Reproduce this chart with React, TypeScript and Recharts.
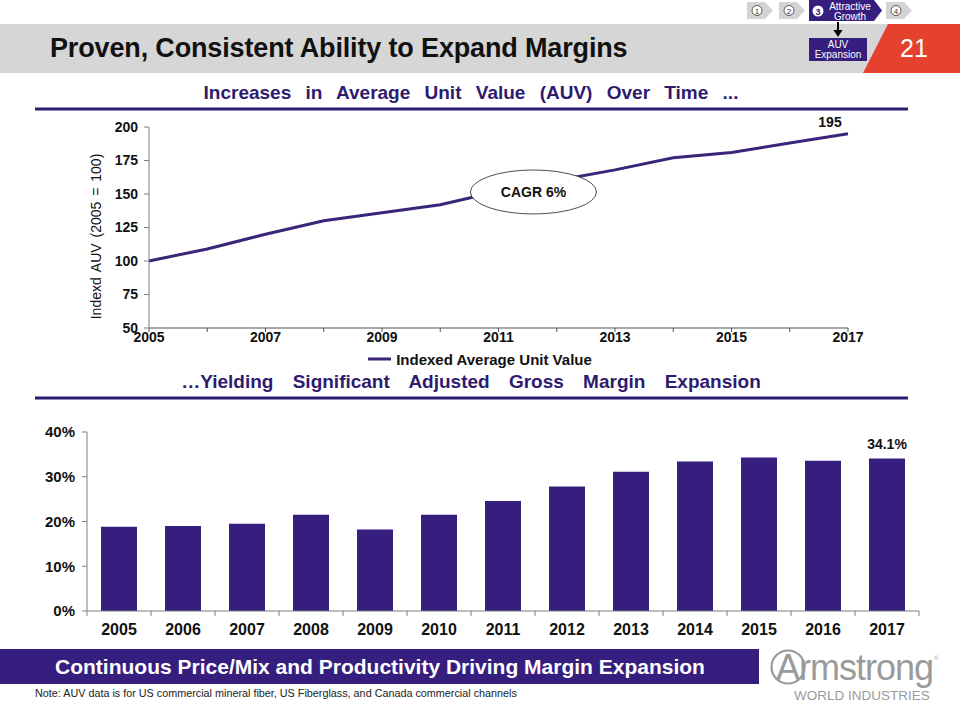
import React from "react";
import {
  LineChart,
  Line,
  BarChart,
  Bar,
  XAxis,
  YAxis,
  Legend,
  LabelList,
  ReferenceDot,
} from "recharts";

const years = [2005, 2006, 2007, 2008, 2009, 2010, 2011, 2012, 2013, 2014, 2015, 2016, 2017];
const auvIndex = [100, 109, 120, 130, 136, 142, 152, 160, 168, 177, 181, 188, 195];
const auvTicks = [50, 75, 100, 125, 150, 175, 200];

const marginYears = ["2005", "2006", "2007", "2008", "2009", "2010", "2011", "2012", "2013", "2014", "2015", "2016", "2017"];
const grossMargin = [18.8, 19.0, 19.5, 21.5, 18.2, 21.5, 24.6, 27.8, 31.1, 33.4, 34.3, 33.6, 34.1];
const marginTicks = [0, 10, 20, 30, 40];

const auvData = years.map((year, i) => ({ year, auv: auvIndex[i] }));
const marginData = marginYears.map((year, i) => ({ year, margin: grossMargin[i] }));

const FONT = "'Liberation Sans', Arial, sans-serif";
const NARROW = "'Liberation Sans Narrow', 'Liberation Sans', Arial, sans-serif";
const PURPLE = "#361e7e";
const AXIS = "#7f7f7f";

// bar chart geometry
const BAR_W = 930;
const BAR_LEFT = 87;
const BAR_RIGHT = 11;
const band = (BAR_W - BAR_LEFT - BAR_RIGHT) / marginYears.length;

const Chevron = ({ x, w, fill, top = 2, bottom = 19 }: { x: number; w: number; fill: string; top?: number; bottom?: number }) => (
  <polygon
    points={`${x},${top} ${x + w - 8},${top} ${x + w},${(top + bottom) / 2} ${x + w - 8},${bottom} ${x},${bottom}`}
    fill={fill}
  />
);

const StepNum = ({ cx, n }: { cx: number; n: string }) => (
  <g>
    <circle cx={cx} cy={10.5} r={5} fill="#fff" stroke="#333" strokeWidth={0.8} />
    <text x={cx} y={13.5} textAnchor="middle" fontSize={8} fill="#333" fontFamily={FONT}>
      {n}
    </text>
  </g>
);

const Slide = () => (
  <svg
    width={960}
    height={720}
    style={{ position: "absolute", left: 0, top: 0, pointerEvents: "none" }}
  >
    <rect x={0} y={24} width={960} height={49} fill="#d6d6d6" />
    <polygon points="888,24 960,24 960,73 863,73" fill="#e5412f" />
    <text x={914} y={57} textAnchor="middle" fontSize={25} fill="#fff" fontFamily={FONT}>
      21
    </text>
    <text x={50} y={57} fontSize={27} fontWeight="bold" fill="#111" fontFamily={FONT} letterSpacing={-0.15}>
      Proven, Consistent Ability to Expand Margins
    </text>

    <Chevron x={747} w={26} fill="#d3d3d3" />
    <StepNum cx={757} n="1" />
    <Chevron x={779} w={26} fill="#d3d3d3" />
    <StepNum cx={789} n="2" />
    <Chevron x={809} w={73} fill={PURPLE} top={0} bottom={21} />
    <circle cx={818} cy={11} r={5.5} fill="#fff" />
    <text x={818} y={14.5} textAnchor="middle" fontSize={9} fontWeight="bold" fill={PURPLE} fontFamily={FONT}>
      3
    </text>
    <text x={850} y={9.5} textAnchor="middle" fontSize={10} fill="#fff" fontFamily={NARROW}>
      Attractive
    </text>
    <text x={850} y={19.5} textAnchor="middle" fontSize={10} fill="#fff" fontFamily={NARROW}>
      Growth
    </text>
    <Chevron x={886} w={26} fill="#d3d3d3" />
    <StepNum cx={896} n="4" />

    <line x1={838} y1={22} x2={838} y2={31} stroke="#000" strokeWidth={2} />
    <polygon points="833.5,30 842.5,30 838,37" fill="#000" />
    <rect x={809} y={38} width={58} height={23} fill={PURPLE} />
    <text x={838} y={48} textAnchor="middle" fontSize={10} fill="#fff" fontFamily={FONT}>
      AUV
    </text>
    <text x={838} y={58} textAnchor="middle" fontSize={10} fill="#fff" fontFamily={FONT}>
      Expansion
    </text>

    <text x={471} y={99} textAnchor="middle" fontSize={19} fontWeight="bold" fill="#2e1b70" fontFamily={FONT} style={{ wordSpacing: 9 }}>
      Increases in Average Unit Value (AUV) Over Time ...
    </text>
    <rect x={35} y={107.5} width={873} height={3} fill="#2e1a6e" />
    <text x={471} y={388} textAnchor="middle" fontSize={19} fontWeight="bold" fill="#2e1b70" fontFamily={FONT} style={{ wordSpacing: 14 }}>
      …Yielding Significant Adjusted Gross Margin Expansion
    </text>
    <rect x={35} y={396.5} width={873} height={3} fill="#2e1a6e" />

    <rect x={0} y={649} width={759} height={35} fill={PURPLE} />
    <text x={380} y={674} textAnchor="middle" fontSize={21} fontWeight="bold" fill="#fff" fontFamily={FONT}>
      Continuous Price/Mix and Productivity Driving Margin Expansion
    </text>
    <text x={35} y={697} fontSize={10.8} fill="#222" fontFamily={NARROW}>
      Note: AUV data is for US commercial mineral fiber, US Fiberglass, and Canada commercial channels
    </text>

    <circle cx={788} cy={667} r={16.5} fill="none" stroke="#9a9a9a" strokeWidth={2.2} />
    <text x={776} y={680} fontSize={36} fill="#9a9a9a" fontFamily={FONT} letterSpacing={-1}>
      Armstrong
    </text>
    <text x={934} y={660} fontSize={6} fill="#9a9a9a" fontFamily={FONT}>
      ®
    </text>
    <text x={862} y={700} textAnchor="middle" fontSize={13.5} fill="#9a9a9a" fontFamily={FONT}>
      WORLD INDUSTRIES
    </text>
  </svg>
);

const CagrBubble = (props: any) => {
  const { cx, cy } = props;
  return (
    <g>
      <ellipse cx={cx} cy={cy} rx={63} ry={22} fill="#fff" stroke="#222" strokeWidth={0.8} />
      <text x={cx} y={cy + 5} textAnchor="middle" fontSize={14} fontWeight="bold" fill="#111" fontFamily={FONT}>
        CAGR 6%
      </text>
    </g>
  );
};

const AuvEndLabel = (props: any) => {
  const { x, y, value, index } = props;
  if (index !== auvIndex.length - 1) return null;
  return (
    <text x={x - 18} y={y - 7} textAnchor="middle" fontSize={14} fontWeight="bold" fill="#111" fontFamily={FONT}>
      {value}
    </text>
  );
};

const MarginEndLabel = (props: any) => {
  const { x, y, width, value, index } = props;
  if (index !== grossMargin.length - 1) return null;
  return (
    <text x={x + width / 2} y={y - 9} textAnchor="middle" fontSize={14} fontWeight="bold" fill="#111" fontFamily={FONT}>
      {value.toFixed(1)}%
    </text>
  );
};

const YLabel = (props: any) => {
  const { viewBox } = props;
  const cx = viewBox.x + 36;
  const cy = viewBox.y + viewBox.height / 2 + 9;
  return (
    <text
      x={cx}
      y={cy}
      transform={`rotate(-90 ${cx} ${cy})`}
      textAnchor="middle"
      dominantBaseline="central"
      fontSize={14}
      fill="#111"
      fontFamily={FONT}
      style={{ wordSpacing: 2 }}
    >
      Indexd AUV (2005 = 100)
    </text>
  );
};

// year label plus a tick mark on the category boundary (Excel style)
const BarTick = (props: any) => {
  const { x, y, payload, index } = props;
  const axisY = y - 13;
  return (
    <g>
      <line x1={x - band / 2} y1={axisY} x2={x - band / 2} y2={axisY + 5} stroke={AXIS} />
      {index === marginYears.length - 1 && (
        <line x1={x + band / 2} y1={axisY} x2={x + band / 2} y2={axisY + 5} stroke={AXIS} />
      )}
      <text x={x} y={y} dy="0.71em" textAnchor="middle" fontSize={16} fontWeight="bold" fill="#111" fontFamily={FONT}>
        {payload.value}
      </text>
    </g>
  );
};

const AuvLegend = () => (
  <div
    style={{
      display: "flex",
      justifyContent: "center",
      alignItems: "center",
      height: 18,
      fontFamily: FONT,
      fontSize: 15,
      fontWeight: "bold",
      color: "#111",
    }}
  >
    <svg width={23} height={6} style={{ marginRight: 5 }}>
      <line x1={0} y1={3} x2={23} y2={3} stroke="#3a2578" strokeWidth={3} />
    </svg>
    <span>Indexed Average Unit Value</span>
  </div>
);

const App = () => {
  return (
    <div
      style={{
        position: "absolute",
        left: 0,
        top: 0,
        width: 960,
        height: 720,
        background: "#fff",
        fontFamily: FONT,
        overflow: "hidden",
      }}
    >
      <Slide />

      <div style={{ position: "absolute", left: 40, top: 110 }}>
        <LineChart
          width={880}
          height={263}
          data={auvData}
          margin={{ top: 17, right: 72, left: 20, bottom: 5 }}
        >
          <XAxis
            dataKey="year"
            type="number"
            domain={[2005, 2017]}
            ticks={years}
            interval={0}
            tickFormatter={(v) => ((v - 2005) % 2 === 0 ? String(v) : "")}
            stroke="#555"
            tickSize={4}
            tickMargin={0}
            height={22}
            tick={{ fill: "#111", fontSize: 14, fontWeight: "bold", fontFamily: FONT }}
          />
          <YAxis
            domain={[50, 200]}
            ticks={auvTicks}
            interval={0}
            width={89}
            stroke={AXIS}
            tickSize={5}
            tickMargin={6}
            tick={{ fill: "#111", fontSize: 14, fontWeight: "bold", fontFamily: FONT }}
            label={<YLabel />}
          />
          <Legend
            verticalAlign="bottom"
            content={<AuvLegend />}
            wrapperStyle={{ left: 40, width: 800, height: 18 }}
          />
          <Line
            type="linear"
            dataKey="auv"
            name="Indexed Average Unit Value"
            stroke="#3a2578"
            strokeWidth={3}
            dot={false}
            isAnimationActive={false}
          >
            <LabelList dataKey="auv" content={<AuvEndLabel />} />
          </Line>
          <ReferenceDot x={2011.6} y={151.5} r={0} shape={<CagrBubble />} />
        </LineChart>
      </div>

      <div style={{ position: "absolute", left: 0, top: 415 }}>
        <BarChart
          width={BAR_W}
          height={226}
          data={marginData}
          margin={{ top: 17, right: BAR_RIGHT, left: 0, bottom: 0 }}
        >
          <XAxis
            dataKey="year"
            interval={0}
            stroke={AXIS}
            tickLine={false}
            tickSize={0}
            tickMargin={13}
            height={30}
            tick={<BarTick />}
          />
          <YAxis
            domain={[0, 40]}
            ticks={marginTicks}
            interval={0}
            width={BAR_LEFT}
            stroke={AXIS}
            tickSize={5}
            tickMargin={7}
            tickFormatter={(v) => `${v}%`}
            tick={{ fill: "#111", fontSize: 15, fontWeight: "bold", fontFamily: FONT }}
          />
          <Bar dataKey="margin" fill={PURPLE} barSize={36} isAnimationActive={false}>
            <LabelList dataKey="margin" content={<MarginEndLabel />} />
          </Bar>
        </BarChart>
      </div>
    </div>
  );
};

export default App;
